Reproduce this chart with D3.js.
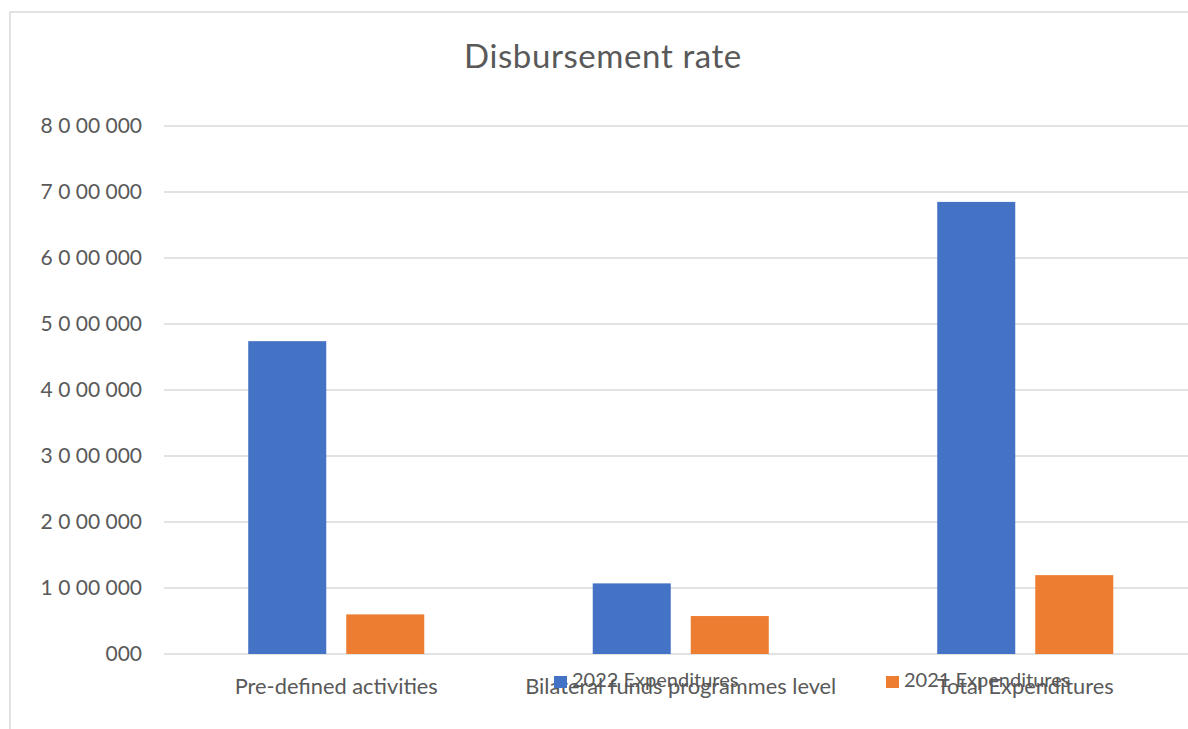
<!DOCTYPE html>
<html>
<head>
<meta charset="utf-8">
<script src="https://cdn.jsdelivr.net/npm/d3@7"></script>
<style>
  html, body { margin: 0; padding: 0; background: #fff; }
  svg { display: block; }
  text { font-family: Lato, "Open Sans", sans-serif; fill: #595959; }
</style>
</head>
<body>
<svg id="chart" width="1188" height="729"></svg>
<script>
const categories = ["Pre-defined activities", "Bilateral funds programmes level", "Total Expenditures"];
const seriesNames = ["2022 Expenditures", "2021 Expenditures"];
const values2022 = [4740000, 1070000, 6850000];
const values2021 = [600000, 575000, 1195000];
const tickValues = [0, 1000000, 2000000, 3000000, 4000000, 5000000, 6000000, 7000000, 8000000];
const tickLabels = ["000", "1 0 00 000", "2 0 00 000", "3 0 00 000", "4 0 00 000", "5 0 00 000", "6 0 00 000", "7 0 00 000", "8 0 00 000"];
const colors = ["#4472C4", "#ED7D31"];
const title = "Disbursement rate";

const svg = d3.select("#chart");

// chart border
svg.append("rect").attr("x", 10).attr("y", 12).attr("width", 1200).attr("height", 740)
  .attr("fill", "#fff").attr("stroke", "#D9D9D9").attr("stroke-width", 1.5);

const plotLeft = 164, plotRight = 1197.5, plotTop = 126, plotBottom = 654;

const y = d3.scaleLinear().domain([0, 8000000]).range([plotBottom, plotTop]);
const x0 = d3.scaleBand().domain(categories).range([plotLeft, plotRight]).paddingInner(0.489).paddingOuter(0.2445);
const x1 = d3.scaleBand().domain(seriesNames).range([0, x0.bandwidth()]).paddingInner(0.204).paddingOuter(0);

// gridlines
svg.append("g").selectAll("line").data(tickValues).join("line")
  .attr("x1", plotLeft).attr("x2", plotRight)
  .attr("y1", d => y(d)).attr("y2", d => y(d))
  .attr("stroke", "#D9D9D9").attr("stroke-width", 1.5);

// y axis labels
const yAxis = d3.axisLeft(y).tickValues(tickValues).tickSize(0).tickPadding(0)
  .tickFormat(d => tickLabels[tickValues.indexOf(d)]);
const gy = svg.append("g").attr("transform", `translate(142,0)`).call(yAxis);
gy.select(".domain").remove();
gy.selectAll("text").style("font-family", "Lato, sans-serif").style("font-size", "21px").attr("fill", "#595959");

// bars
const data = categories.map((c, i) => ({cat: c, vals: [
  {s: seriesNames[0], v: values2022[i], c: colors[0]},
  {s: seriesNames[1], v: values2021[i], c: colors[1]}
]}));

const groups = svg.append("g").selectAll("g").data(data).join("g")
  .attr("transform", d => `translate(${x0(d.cat)},0)`);
groups.selectAll("rect").data(d => d.vals).join("rect")
  .attr("x", d => x1(d.s)).attr("width", x1.bandwidth())
  .attr("y", d => y(d.v)).attr("height", d => y(0) - y(d.v))
  .attr("fill", d => d.c);

// category labels
svg.append("g").selectAll("text").data(categories).join("text")
  .attr("x", d => x0(d) + x0.bandwidth() / 2).attr("y", 694)
  .attr("text-anchor", "middle").style("font-size", "21.8px").text(d => d);

// legend
const legendX = [554, 886];
const leg = svg.append("g").selectAll("g").data(seriesNames).join("g")
  .attr("transform", (d, i) => `translate(${legendX[i]},676)`);
leg.append("rect").attr("width", 13).attr("height", 12).attr("fill", (d, i) => colors[i]);
leg.append("text").attr("x", 18).attr("y", 10.5).style("font-size", "20px").text(d => d);

// title
svg.append("text").attr("x", 603).attr("y", 68).attr("text-anchor", "middle")
  .style("font-size", "33px").style("letter-spacing", "0.6px").text(title);
</script>
</body>
</html>
